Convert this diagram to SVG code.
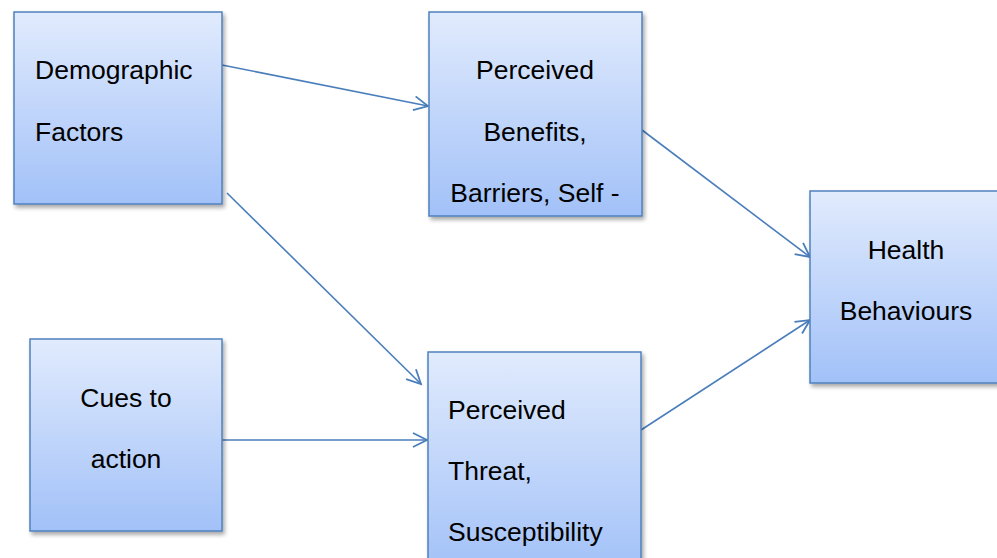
<svg xmlns="http://www.w3.org/2000/svg" width="997" height="558" viewBox="0 0 997 558">
<defs>
<linearGradient id="g" x1="0" y1="0" x2="0" y2="1">
<stop offset="0" stop-color="#e1ebfd"/>
<stop offset="1" stop-color="#a2c1f8"/>
</linearGradient>
<filter id="sh" x="-10%" y="-10%" width="130%" height="130%">
<feGaussianBlur in="SourceAlpha" stdDeviation="2"/>
<feOffset dx="2" dy="3"/>
<feComponentTransfer><feFuncA type="linear" slope="0.35"/></feComponentTransfer>
<feMerge><feMergeNode/><feMergeNode in="SourceGraphic"/></feMerge>
</filter>
<marker id="ah" markerWidth="18" markerHeight="16" refX="15" refY="8" orient="auto" markerUnits="userSpaceOnUse">
<path d="M1,1 L15,8 L1,15" fill="none" stroke="#4a7ebb" stroke-width="1.8"/>
</marker>
<style>
.box{fill:url(#g);stroke:#4f81bd;stroke-width:1.5;filter:url(#sh)}
.t{font-family:"Liberation Sans",Arial,sans-serif;font-size:26.5px;fill:#000}
.c{text-anchor:middle}
.ln{fill:none;stroke:#4a7ebb;stroke-width:1.6;marker-end:url(#ah)}
</style>
</defs>
<rect width="997" height="558" fill="#fff"/>
<g id="connectors">
<line class="ln" x1="222" y1="65" x2="428" y2="106"/>
<line class="ln" x1="227" y1="193" x2="421" y2="384"/>
<line class="ln" x1="222" y1="440" x2="427" y2="440"/>
<line class="ln" x1="642" y1="130" x2="810" y2="257"/>
<line class="ln" x1="641" y1="430" x2="810" y2="320"/>
</g>
<g id="demographic">
<rect class="box" x="14" y="12" width="208" height="192"/>
<text class="t" x="35" y="79">Demographic</text>
<text class="t" x="35" y="141">Factors</text>
</g>
<g id="benefits">
<rect class="box" x="429" y="12" width="213" height="204"/>
<text class="t c" x="535" y="79">Perceived</text>
<text class="t c" x="535" y="141">Benefits,</text>
<text class="t c" x="535" y="202">Barriers, Self -</text>
</g>
<g id="cues">
<rect class="box" x="30" y="339" width="192" height="192"/>
<text class="t c" x="126" y="407">Cues to</text>
<text class="t c" x="126" y="468">action</text>
</g>
<g id="threat">
<rect class="box" x="428" y="352" width="213" height="220"/>
<text class="t" x="448" y="419">Perceived</text>
<text class="t" x="448" y="480">Threat,</text>
<text class="t" x="448" y="541">Susceptibility</text>
</g>
<g id="health">
<rect class="box" x="810" y="191" width="200" height="192"/>
<text class="t c" x="906" y="259">Health</text>
<text class="t c" x="906" y="320">Behaviours</text>
</g>
</svg>
